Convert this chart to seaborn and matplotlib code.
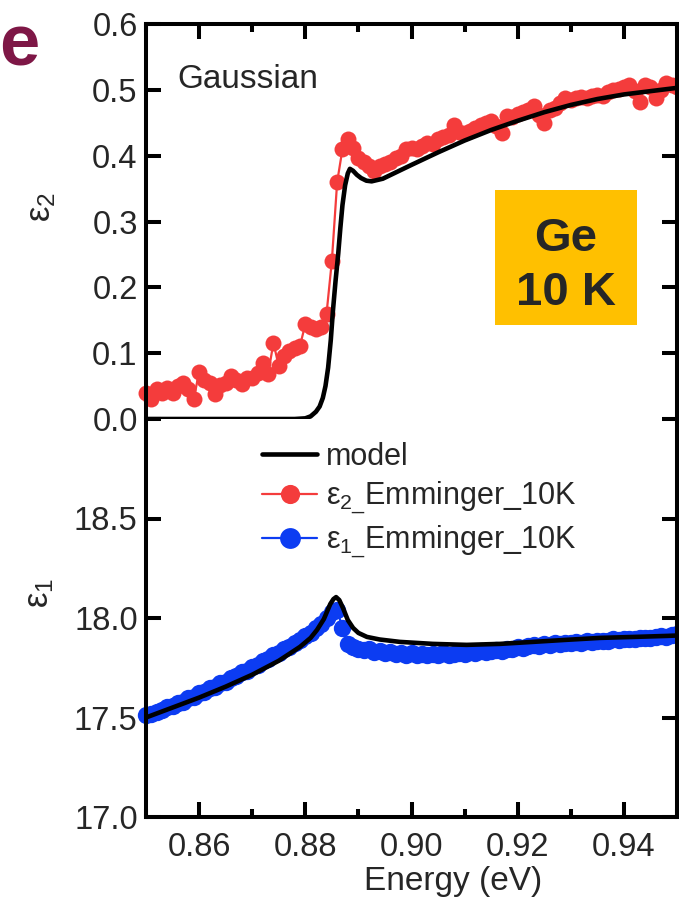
import numpy as np
import pandas as pd
import matplotlib
matplotlib.use("Agg")
import matplotlib.pyplot as plt
import seaborn as sns
from matplotlib.patches import Rectangle
from matplotlib.ticker import MultipleLocator, FormatStrFormatter, FixedLocator, FixedFormatter

sns.set_theme(style="ticks")
plt.rcParams["font.family"] = ["Liberation Sans", "DejaVu Sans"]
plt.rcParams["mathtext.fontset"] = "custom"
plt.rcParams["mathtext.rm"] = "Liberation Sans"
plt.rcParams["mathtext.it"] = "Liberation Sans:italic"
plt.rcParams["mathtext.bf"] = "Liberation Sans:bold"

# ---- measured data (Emminger, 10 K), sampled every 1 meV ----
energy = np.round(np.arange(850, 951) * 0.001, 3)

eps2_meas = [
    0.040, 0.030, 0.045, 0.040, 0.047, 0.040, 0.050, 0.055, 0.045, 0.030,
    0.072, 0.060, 0.055, 0.038, 0.052, 0.055, 0.065, 0.060, 0.053, 0.062,
    0.063, 0.070, 0.085, 0.068, 0.116, 0.080, 0.095, 0.103, 0.108, 0.111,
    0.144, 0.140, 0.137, 0.139, 0.160, 0.240, 0.360, 0.410, 0.426, 0.412,
    0.397, 0.390, 0.385, 0.377, 0.385, 0.388, 0.390, 0.397, 0.400, 0.410,
    0.412, 0.410, 0.415, 0.420, 0.418, 0.425, 0.428, 0.432, 0.446, 0.436,
    0.435, 0.438, 0.442, 0.446, 0.449, 0.452, 0.445, 0.435, 0.461, 0.458,
    0.463, 0.466, 0.470, 0.476, 0.462, 0.449, 0.469, 0.472, 0.480, 0.487,
    0.484, 0.488, 0.489, 0.487, 0.491, 0.492, 0.490, 0.496, 0.500, 0.502,
    0.505, 0.507, 0.498, 0.481, 0.507, 0.505, 0.487, 0.500, 0.511, 0.507,
    0.505,
]

eps1_meas = [
    17.512, 17.518, 17.530, 17.540, 17.552, 17.558, 17.574, 17.580, 17.598, 17.605,
    17.622, 17.630, 17.648, 17.655, 17.674, 17.680, 17.700, 17.708, 17.728, 17.736,
    17.756, 17.764, 17.784, 17.794, 17.814, 17.822, 17.844, 17.855, 17.876, 17.888,
    17.910, 17.926, 17.952, 17.972, 18.002, 18.028, 18.040, 17.950, 17.870, 17.856,
    17.846, 17.838, 17.842, 17.830, 17.834, 17.824, 17.830, 17.820, 17.826, 17.816,
    17.822, 17.812, 17.820, 17.814, 17.818, 17.812, 17.822, 17.815, 17.820, 17.822,
    17.818, 17.828, 17.822, 17.832, 17.828, 17.836, 17.838, 17.836, 17.844, 17.846,
    17.852, 17.848, 17.858, 17.862, 17.858, 17.868, 17.864, 17.872, 17.868, 17.876,
    17.872, 17.878, 17.874, 17.882, 17.878, 17.884, 17.886, 17.884, 17.892, 17.888,
    17.894, 17.896, 17.894, 17.900, 17.902, 17.900, 17.906, 17.908, 17.906, 17.914,
    17.918,
]

# ---- Gaussian-broadened model ----
model2_energy = [0.850, 0.870, 0.878, 0.880, 0.881, 0.882, 0.8827, 0.8833, 0.8838,
                 0.8843, 0.8848, 0.8852, 0.8857, 0.8862, 0.8866, 0.8870, 0.8875,
                 0.8880, 0.8884, 0.8890, 0.8897, 0.8905, 0.8915, 0.8925, 0.8946,
                 0.900, 0.905, 0.910, 0.915, 0.920, 0.925, 0.930, 0.935, 0.940,
                 0.945, 0.950]
model2_eps = [0.000, 0.000, 0.000, 0.001, 0.004, 0.011, 0.019, 0.032, 0.050,
              0.078, 0.120, 0.164, 0.210, 0.251, 0.290, 0.325, 0.355,
              0.373, 0.380, 0.377, 0.371, 0.366, 0.362, 0.361, 0.365,
              0.386, 0.405, 0.423, 0.439, 0.453, 0.466, 0.477, 0.486, 0.493,
              0.498, 0.503]

model1_energy = [0.850, 0.855, 0.860, 0.865, 0.870, 0.875, 0.879, 0.881, 0.8822,
                 0.8835, 0.8847, 0.8853, 0.8858, 0.8864, 0.8871, 0.888, 0.889,
                 0.890, 0.8916, 0.894, 0.8978, 0.904, 0.9104, 0.9167, 0.9229,
                 0.929, 0.9355, 0.942, 0.9481, 0.950]
model1_eps = [17.500, 17.550, 17.600, 17.655, 17.715, 17.785, 17.855, 17.900, 17.940,
              17.995, 18.070, 18.095, 18.105, 18.090, 18.050, 17.990, 17.950,
              17.925, 17.905, 17.892, 17.880, 17.870, 17.865, 17.870, 17.880,
              17.890, 17.900, 17.905, 17.910, 17.912]

x_ticks = [0.86, 0.88, 0.90, 0.92, 0.94]
eps2_ticks = [0.0, 0.1, 0.2, 0.3, 0.4, 0.5, 0.6]
eps1_ticks = [17.0, 17.5, 18.0, 18.5, 19.0]
eps1_labels = ["17.0", "17.5", "18.0", "18.5", ""]

RED = "#F43C3C"
BLUE = "#0C3CF2"
GOLD = "#FFC000"
MAROON = "#7E1746"

# ---- figure layout (pixel geometry) ----
W, H = 679, 901
fig = plt.figure(figsize=(W / 100, H / 100), dpi=100)


def fx(px):
    return px / W


def fy(py):
    return 1 - py / H


left, right = 146, 677
top, mid, bottom = 24, 419, 817
ax_top = fig.add_axes([fx(left), fy(mid), (right - left) / W, (mid - top) / H])
ax_bot = fig.add_axes([fx(left), fy(bottom), (right - left) / W, (bottom - mid) / H])

df2 = pd.DataFrame({"E": energy, "eps": eps2_meas})
df1 = pd.DataFrame({"E": energy, "eps": eps1_meas})
dm2 = pd.DataFrame({"E": model2_energy, "eps": model2_eps})
dm1 = pd.DataFrame({"E": model1_energy, "eps": model1_eps})

marker_kw = dict(marker="o", markeredgewidth=0, estimator=None,
                 sort=False, clip_on=False, linewidth=1.6)

sns.lineplot(data=df2, x="E", y="eps", ax=ax_top, color=RED, markersize=11.5,
             markerfacecolor=RED, markeredgecolor=RED, zorder=2, **marker_kw)
red_line = ax_top.lines[-1]
sns.lineplot(data=dm2, x="E", y="eps", ax=ax_top, color="black", linewidth=3.3,
             estimator=None, sort=False, zorder=3, solid_joinstyle="round")

sns.lineplot(data=df1, x="E", y="eps", ax=ax_bot, color=BLUE, markersize=12.5,
             markerfacecolor=BLUE, markeredgecolor=BLUE, zorder=2, **marker_kw)
blue_line = ax_bot.lines[-1]
sns.lineplot(data=dm1, x="E", y="eps", ax=ax_bot, color="black", linewidth=3.3,
             estimator=None, sort=False, zorder=3, solid_joinstyle="round")
model_line = ax_bot.lines[-1]

# ---- axes styling ----
SPINE_W = 2.9
for ax in (ax_top, ax_bot):
    ax.set_xlim(0.85, 0.95)
    ax.set_xlabel("")
    ax.set_ylabel("")
    ax.set_facecolor("white")
    for s in ax.spines.values():
        s.set_linewidth(SPINE_W)
        s.set_color("black")
    ax.xaxis.set_major_locator(FixedLocator(x_ticks))
    ax.xaxis.set_minor_locator(MultipleLocator(0.01))
    ax.tick_params(axis="both", which="major", direction="in", length=11,
                   width=SPINE_W, labelsize=23.5, color="black")
    ax.tick_params(axis="x", which="minor", direction="in", length=5.5,
                   width=SPINE_W, color="black")
    ax.tick_params(axis="y", left=True, right=True, pad=6)

ax_top.spines["bottom"].set_visible(False)
ax_bot.spines["top"].set_visible(False)

ax_top.set_ylim(0.0, 0.6)
ax_top.yaxis.set_major_locator(FixedLocator(eps2_ticks))
ax_top.yaxis.set_major_formatter(FormatStrFormatter("%.1f"))
ax_top.tick_params(axis="x", which="both", top=True, bottom=False,
                   labelbottom=False, labeltop=False)

ax_bot.set_ylim(17.0, 19.0)
ax_bot.yaxis.set_major_locator(FixedLocator(eps1_ticks))
ax_bot.yaxis.set_major_formatter(FixedFormatter(eps1_labels))
ax_bot.xaxis.set_major_formatter(FormatStrFormatter("%.2f"))
ax_bot.tick_params(axis="x", which="both", top=False, bottom=True,
                   labelbottom=True, pad=11)

# ---- labels and annotations ----
fig.text(fx(453), fy(890), "Energy (eV)", fontsize=24, ha="center", va="baseline")
fig.text(fx(41), fy(207), "ε$_2$", fontsize=25, rotation=90, ha="center", va="center")
fig.text(fx(40), fy(593), "ε$_1$", fontsize=25, rotation=90, ha="center", va="center")
fig.text(fx(-1), fy(65), "e", fontsize=52, fontweight="bold", color=MAROON,
         ha="left", va="baseline")
fig.text(fx(177), fy(88), "Gaussian", fontsize=24, ha="left", va="baseline")

fig.patches.append(Rectangle((fx(495), fy(325)), (637 - 495) / W, (325 - 190) / H,
                             transform=fig.transFigure, facecolor=GOLD,
                             edgecolor="none", zorder=5))
fig.text(fx(566), fy(251), "Ge", fontsize=34, fontweight="bold", ha="center",
         va="baseline", zorder=6)
fig.text(fx(566), fy(305), "10 K", fontsize=34, fontweight="bold", ha="center",
         va="baseline", zorder=6)

leg = ax_bot.legend([model_line, red_line, blue_line],
                    ["model", "ε$_{2\\_}$Emminger_10K", "ε$_{1\\_}$Emminger_10K"],
                    loc="upper left", bbox_to_anchor=(fx(262), fy(442)),
                    bbox_transform=fig.transFigure, frameon=False, fontsize=22,
                    borderaxespad=0, borderpad=0, handlelength=1.8,
                    handletextpad=0.3, labelspacing=0.25, markerscale=1.2)

fig.savefig("out.png", dpi=100, facecolor="white")
